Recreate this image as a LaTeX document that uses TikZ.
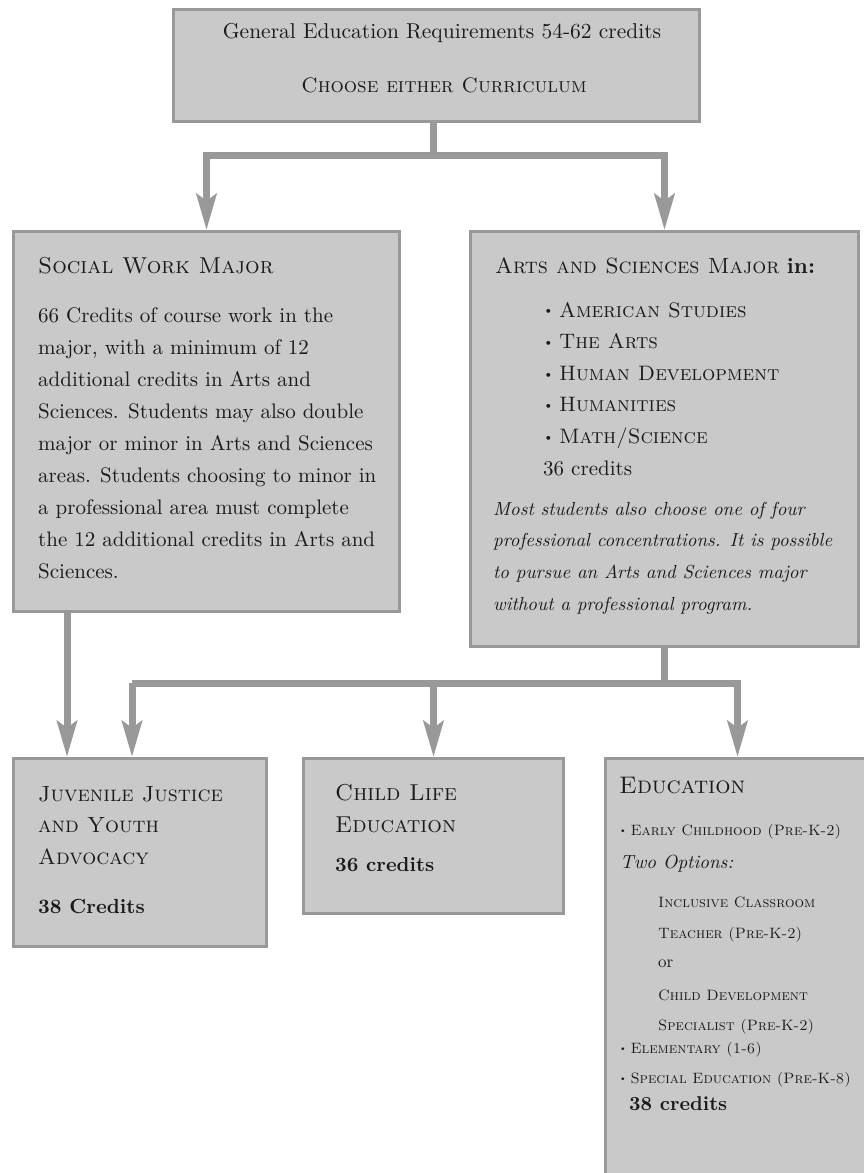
\documentclass[tikz,border=0pt]{standalone}
\usepackage{fontspec}
\setmainfont{lmroman10-regular.otf}[BoldFont=lmroman10-bold.otf, ItalicFont=lmroman10-italic.otf, BoldItalicFont=lmroman10-bolditalic.otf, SmallCapsFont=lmromancaps10-regular.otf]
\usetikzlibrary{arrows.meta}
\definecolor{boxfill}{HTML}{C9C9C9}
\definecolor{boxline}{HTML}{999999}
\definecolor{ink}{HTML}{1A1A1A}
\newcommand{\bul}{\raisebox{0.1em}{\scalebox{0.65}{\textbullet}}\hspace{0.25em}}
\tikzset{
  box/.style={draw=boxline, fill=boxfill, line width=3pt, anchor=north west, inner sep=0pt},
  conn/.style={draw=boxline, line width=7pt, line join=miter},
  tip/.style={-{Stealth[length=36pt,width=20pt,inset=7pt]}},
  txt/.style={anchor=base west, inner sep=0pt, text=ink, font=\fontsize{21}{32}\selectfont},
  ctxt/.style={anchor=base, inner sep=0pt, text=ink, font=\fontsize{21}{32}\selectfont},
  small/.style={anchor=base west, inner sep=0pt, text=ink, font=\fontsize{15}{20}\selectfont}
}
\begin{document}
\begin{tikzpicture}[x=1pt,y=-1pt]
\useasboundingbox (0,0) rectangle (864,1173);
% boxes
\node[box, minimum width=526pt, minimum height=112pt] (top) at (172,8) {};
\node[box, minimum width=386pt, minimum height=380pt] (sw) at (12,230) {};
\node[box, minimum width=388pt, minimum height=415pt] (as) at (469,230) {};
\node[box, minimum width=253pt, minimum height=188pt] (jj) at (12,757) {};
\node[box, minimum width=260pt, minimum height=155pt] (cl) at (302,757) {};
\node[box, minimum width=264pt, minimum height=440pt] (ed) at (604,757) {};
% connectors level 1
\coordinate (j1) at (433,155);
\draw[conn] (top.south -| j1) -- (j1);
\draw[conn,tip] (j1) -| (sw.north);
\draw[conn,tip] (j1) -| (as.north);
% connectors level 2
\coordinate (s1) at (67,610);
\draw[conn,tip] (s1) -- (s1 |- jj.north);
\coordinate (j2) at (664,683);
\coordinate (j2l) at (132,683);
\draw[conn] (as.south -| j2) -- (j2);
\draw[conn] (j2l) -- (j2);
\draw[conn,tip] (j2l) -- (j2l |- jj.north);
\draw[conn,tip] (j2) -| (cl.north);
\draw[conn,tip] (j2) -| (ed.north);
% top text
\node[ctxt, font=\fontsize{21.5}{32}\selectfont] (t1) at (442,38) {General Education Requirements 54-62 credits};
\node[ctxt, font=\fontsize{20.9}{32}\selectfont] (t2) at (444,92) {\textsc{Choose either Curriculum}};
% social work
\node[txt, font=\fontsize{23}{32}\selectfont] (swt) at (38,273) {\textsc{Social Work Major}};
\node[txt] (swb) at (38,322) {\parbox[t]{380pt}{\raggedright
66 Credits of course work in the\\
major, with a minimum of 12\\
additional credits in Arts and\\
Sciences. Students may also double\\
major or minor in Arts and Sciences\\
areas. Students choosing to minor in\\
a professional area must complete\\
the 12 additional credits in Arts and\\
Sciences.}};
% arts and sciences
\node[txt, font=\fontsize{22}{32}\selectfont] (ast) at (495,273) {\textsc{Arts and Sciences Major} \textbf{in:}};
\node[txt, font=\fontsize{20.9}{31.6}\selectfont] (asl) at (543,317) {\parbox[t]{300pt}{\raggedright
\bul\textsc{American Studies}\\
\bul\textsc{The Arts}\\
\bul\textsc{Human Development}\\
\bul\textsc{Humanities}\\
\bul\textsc{Math/Science}\\
{\fontsize{21}{31.6}\selectfont 36 credits}}};
\node[txt, font=\fontsize{18.9}{31.8}\selectfont] (asi) at (493,515) {\parbox[t]{400pt}{\raggedright\itshape
Most students also choose one of four\\
professional concentrations. It is possible\\
to pursue an Arts and Sciences major\\
without a professional program.}};
% juvenile justice
\node[txt, font=\fontsize{22}{31.5}\selectfont] (jjt) at (38,801) {\parbox[t]{220pt}{\raggedright
\textsc{Juvenile Justice}\\
\textsc{and Youth}\\
\textsc{Advocacy}}};
\node[txt, font=\fontsize{20.4}{32}\selectfont] (jjc) at (38,913) {\textbf{38 Credits}};
% child life
\node[txt, font=\fontsize{23}{32}\selectfont] (clt) at (335,800) {\parbox[t]{220pt}{\raggedright
\textsc{Child Life}\\
\textsc{Education}}};
\node[txt, font=\fontsize{20.2}{32}\selectfont] (clc) at (335,871) {\textbf{36 credits}};
% education
\node[txt, font=\fontsize{24}{32}\selectfont] (edt) at (619,793) {\textsc{Education}};
\node[small] (e1) at (619,835) {\bul\textsc{Early Childhood (Pre-K-2)}};
\node[small, font=\fontsize{19}{20}\selectfont] (e2) at (620,868) {\textit{Two Options:}};
\node[small] (e3) at (658,907) {\textsc{Inclusive Classroom}};
\node[small] (e4) at (658,938) {\textsc{Teacher (Pre-K-2)}};
\node[small, font=\fontsize{17}{20}\selectfont] (e5) at (658,967) {or};
\node[small] (e6) at (658,1000) {\textsc{Child Development}};
\node[small] (e7) at (658,1030) {\textsc{Specialist (Pre-K-2)}};
\node[small] (e8) at (619,1053) {\bul\textsc{Elementary (1-6)}};
\node[small] (e9) at (619,1083) {\bul\textsc{Special Education (Pre-K-8)}};
\node[txt, font=\fontsize{20}{32}\selectfont] (e10) at (629,1110) {\textbf{38 credits}};
\end{tikzpicture}
\end{document}
